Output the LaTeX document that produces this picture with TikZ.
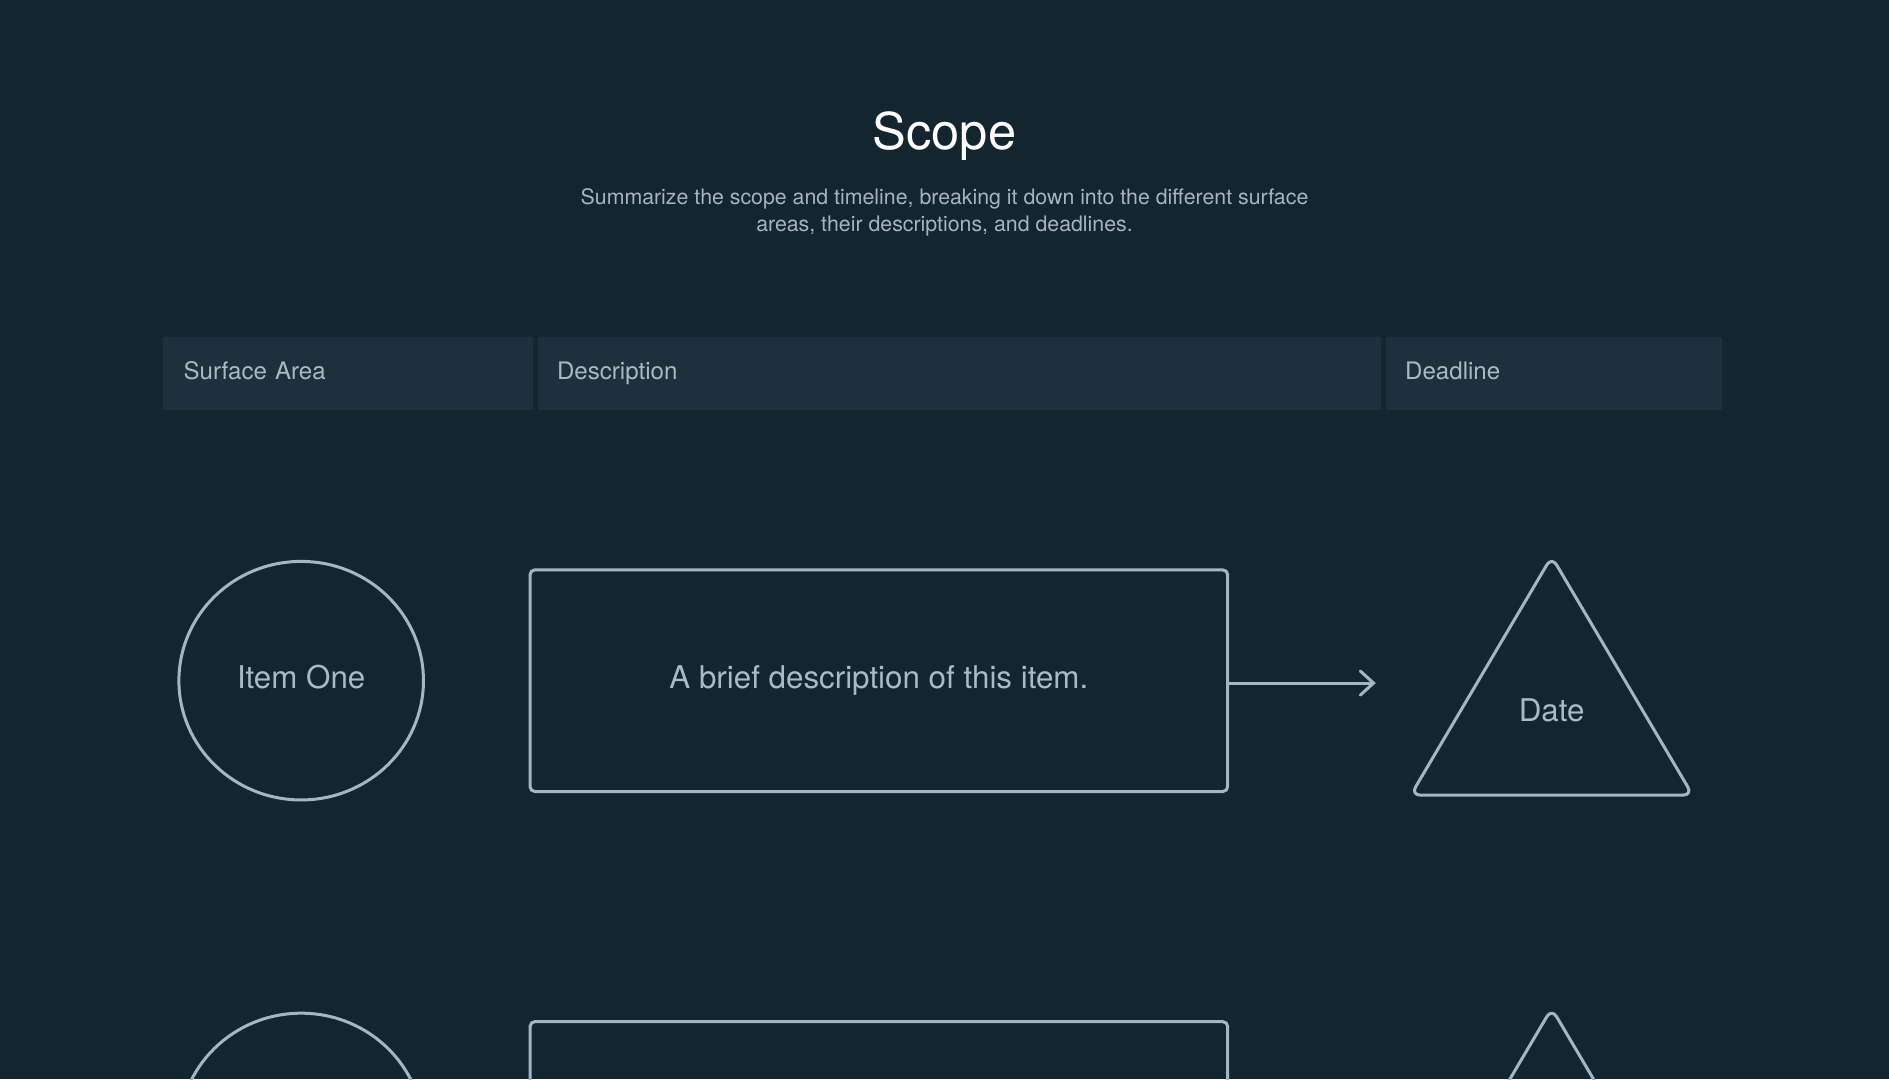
\documentclass[tikz,border=0pt]{standalone}
\usepackage{fontspec}
\setmainfont{TeX Gyre Heros}
\usetikzlibrary{shapes.geometric,arrows.meta}
\definecolor{bg}{HTML}{13252F}
\definecolor{hdr}{HTML}{1E303C}
\definecolor{ln}{HTML}{A3B7C3}
\definecolor{txt}{HTML}{A9BAC5}
\definecolor{subc}{HTML}{A7B4BD}
\begin{document}
\begin{tikzpicture}[x=0.5pt,y=-0.5pt,
  hdrbox/.style={fill=hdr, rounded corners=1pt, anchor=north west, minimum height=30.5pt, inner ysep=0pt, align=left, text=txt, font=\fontsize{10}{12}\selectfont, text height=7.2pt, text depth=2.5pt},
  shp/.style={draw=ln, line width=1.25pt},
  lbl/.style={text=txt, font=\fontsize{13}{15}\selectfont},
  subt/.style={anchor=base, text=subc, font=\fontsize{8.85}{11}\selectfont},
  arr/.style={-{Straight Barb[length=5.5pt,width=10pt,line cap=round]}, line cap=round}
]
\fill[bg] (0,0) rectangle (1568,896);
\useasboundingbox (0,0) rectangle (1568,896);
\clip (0,0) rectangle (1568,896);

\node[anchor=base, text=white, font=\fontsize{21}{24}\selectfont] (title) at (784,124) {Scope};
\node[subt] (sub1) at (784,169.5) {Summarize the scope and timeline, breaking it down into the different surface};
\node[subt] (sub2) at (784,192.5) {areas, their descriptions, and deadlines.};

\node[hdrbox, minimum width=153.5pt, text width=136.5pt, inner xsep=8.5pt] (h1) at (135,279) {Surface Area};
\node[hdrbox, minimum width=350pt, text width=334pt, inner xsep=8pt] (h2) at (446,279) {Description};
\node[hdrbox, minimum width=139.5pt, text width=123.5pt, inner xsep=8pt] (h3) at (1150,279) {Deadline};

% row 1
\node[shp, ellipse, minimum width=101.5pt, minimum height=99pt, inner sep=0pt, lbl, text depth=3pt] (item1) at (250,565) {Item One};
\node[shp, rounded corners=2pt, minimum width=289.5pt, minimum height=92pt, lbl] (desc1) at (729.5,565) {A brief description of this item.};
\coordinate (end1) at (1142,567);
\draw[shp, arr] (desc1.east |- end1) -- (end1);
\draw[shp, rounded corners=4pt, line join=round] (1288,660) -- (1171,660) -- (1288,462) -- (1405,660) -- cycle;
\node[lbl] (date1) at (1288,590) {Date};

% row 2
\node[shp, ellipse, minimum width=101.5pt, minimum height=99pt, inner sep=0pt] (item2) at (250,940) {};
\node[shp, rounded corners=2pt, minimum width=289.5pt, minimum height=92pt] (desc2) at (729.5,940) {};
\draw[shp, rounded corners=4pt, line join=round] (1288,1035) -- (1171,1035) -- (1288,837) -- (1405,1035) -- cycle;
\end{tikzpicture}
\end{document}
